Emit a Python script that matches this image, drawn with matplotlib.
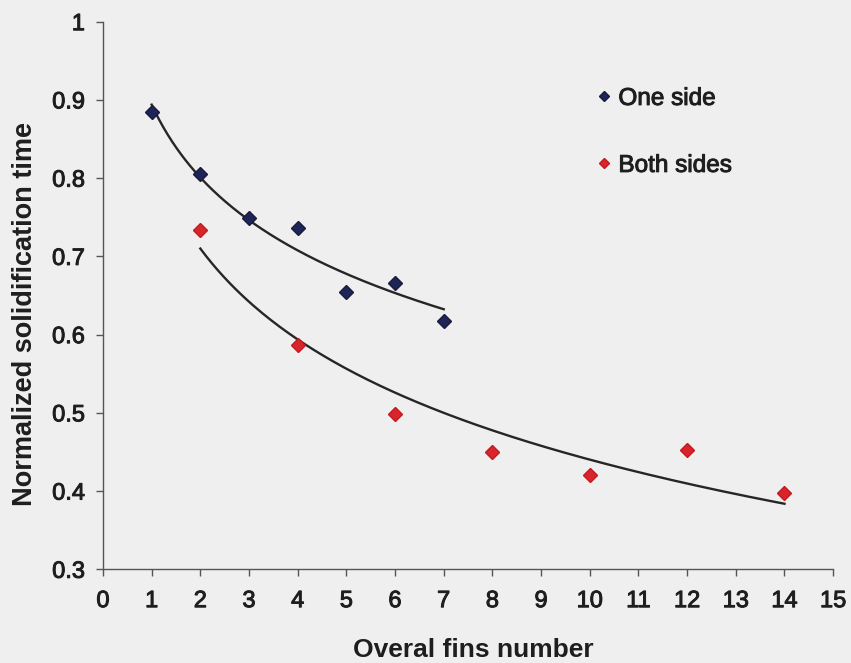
import numpy as np
import matplotlib
matplotlib.use("Agg")
import matplotlib.pyplot as plt
import matplotlib.patheffects as pe

# Measured data
one_side_x = [1, 2, 3, 4, 5, 6, 7]
one_side_y = [0.885, 0.805, 0.749, 0.736, 0.654, 0.666, 0.617]

both_sides_x = [2, 4, 6, 8, 10, 12, 14]
both_sides_y = [0.734, 0.587, 0.499, 0.450, 0.421, 0.452, 0.398]

x_ticks = list(range(0, 16))
y_ticks = [0.3, 0.4, 0.5, 0.6, 0.7, 0.8, 0.9, 1.0]
y_tick_labels = ["0.3", "0.4", "0.5", "0.6", "0.7", "0.8", "0.9", "1"]

plt.rcParams["font.family"] = ["Liberation Sans", "DejaVu Sans"]

bg = "#efefef"
ink = "#1e1e1e"
heavy = [pe.withStroke(linewidth=0.7, foreground=ink)]

fig = plt.figure(figsize=(8.51, 6.63), dpi=100, facecolor=bg)
ax = fig.add_axes([0.121, 0.1413, 0.858, 0.826], facecolor=bg)


def log_trend(xs, ys):
    """Logarithmic least-squares trendline y = a + b*ln(x)."""
    xs = np.asarray(xs, float)
    ys = np.asarray(ys, float)
    b, a = np.polyfit(np.log(xs), ys, 1)
    xx = np.linspace(xs.min(), xs.max(), 200)
    return xx, a + b * np.log(xx)


for xs, ys in [(one_side_x, one_side_y), (both_sides_x, both_sides_y)]:
    tx, ty = log_trend(xs, ys)
    ax.plot(tx, ty, color="#262626", lw=1.7, zorder=2)

ax.plot(one_side_x, one_side_y, linestyle="none", marker="D", markersize=6.8,
        color="#1f2456", markeredgecolor="#1a1a40", label="One side", zorder=3)
ax.plot(both_sides_x, both_sides_y, linestyle="none", marker="D", markersize=6.8,
        color="#d8242a", markeredgecolor="#c01c20", label="Both sides", zorder=3)

ax.set_xlim(0, 15)
ax.set_ylim(0.3, 1.0)
ax.set_xticks(x_ticks)
ax.set_yticks(y_ticks)
ax.set_yticklabels(y_tick_labels)

for side in ["top", "right"]:
    ax.spines[side].set_visible(False)
for side in ["left", "bottom"]:
    ax.spines[side].set_color("#555555")
    ax.spines[side].set_linewidth(1.0)

ax.tick_params(axis="both", direction="out", length=5, width=1.0,
               color="#555555", labelsize=17, labelcolor=ink)
ax.tick_params(axis="x", pad=10)
ax.tick_params(axis="y", pad=8)
for lbl in ax.get_xticklabels() + ax.get_yticklabels():
    lbl.set_path_effects(heavy)

ax.set_xlabel("Overal fins number", fontsize=19, fontweight="bold", color=ink)
ax.set_ylabel("Normalized solidification time", fontsize=19.5, fontweight="bold",
              color=ink)
ax.xaxis.set_label_coords(0.507, -0.125)
ax.yaxis.set_label_coords(-0.089, 0.467)

leg = ax.legend(loc="upper left", bbox_to_anchor=(0.646, 0.919), frameon=False,
                prop={"size": 17.5}, handlelength=0.6,
                handletextpad=0.3, labelspacing=1.85, markerscale=0.75)
for t in leg.get_texts():
    t.set_color(ink)
    t.set_path_effects(heavy)

fig.savefig("out.png", dpi=100, facecolor=bg)
